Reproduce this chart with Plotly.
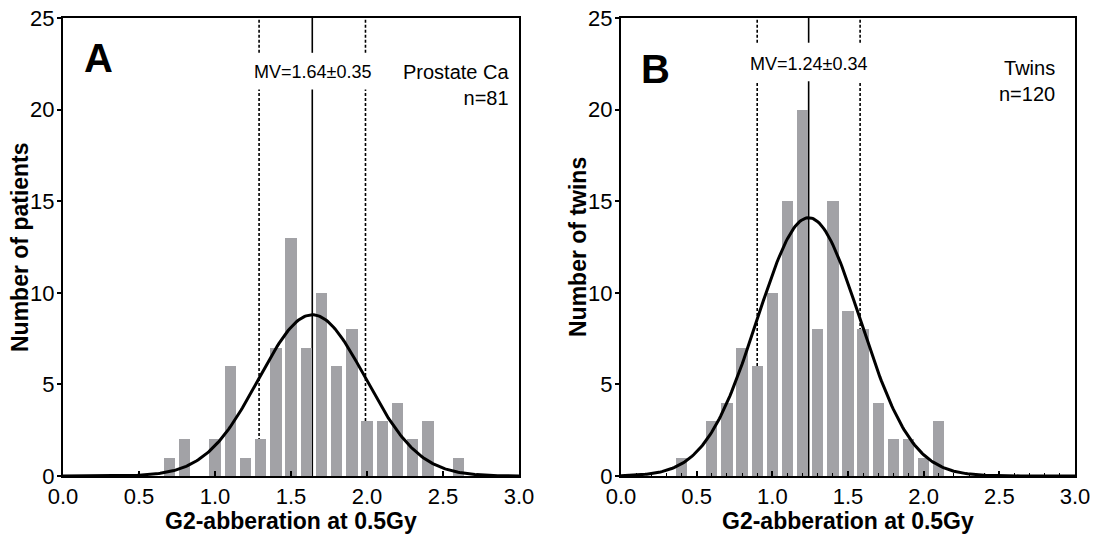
import numpy as np
import plotly.graph_objects as go

# ---- data ----
bins_a = [0.7, 0.8, 1.0, 1.1, 1.2, 1.3, 1.4, 1.5, 1.6, 1.7, 1.8, 1.9, 2.0, 2.1, 2.2, 2.3, 2.4, 2.6]
counts_a = [1, 2, 2, 6, 1, 2, 7, 13, 7, 10, 6, 8, 3, 3, 4, 2, 3, 1]
mean_a, sd_a, peak_a = 1.64, 0.35, 8.8

bins_b = [0.4, 0.6, 0.7, 0.8, 0.9, 1.0, 1.1, 1.2, 1.3, 1.4, 1.5, 1.6, 1.7, 1.8, 1.9, 2.0, 2.1]
counts_b = [1, 3, 4, 7, 6, 10, 15, 20, 8, 15, 9, 8, 4, 2, 2, 1, 3]
mean_b, sd_b, peak_b = 1.24, 0.34, 14.1

x_ticks = [0.0, 0.5, 1.0, 1.5, 2.0, 2.5, 3.0]
y_ticks = [0, 5, 10, 15, 20, 25]

FONT = "Liberation Sans, Arial, sans-serif"
BAR = "#A2A2A6"

xgrid = np.linspace(0, 3, 301)

def gauss(x, m, s, p):
    return p * np.exp(-0.5 * ((x - m) / s) ** 2)

fig = go.Figure()
fig.add_trace(go.Bar(x=bins_a, y=counts_a, width=0.075, marker=dict(color=BAR, line=dict(width=0)),
                     xaxis="x", yaxis="y", showlegend=False))
fig.add_trace(go.Scatter(x=xgrid, y=gauss(xgrid, mean_a, sd_a, peak_a), mode="lines",
                         line=dict(color="black", width=3), xaxis="x", yaxis="y", showlegend=False))
fig.add_trace(go.Bar(x=bins_b, y=counts_b, width=0.075, marker=dict(color=BAR, line=dict(width=0)),
                     xaxis="x2", yaxis="y2", showlegend=False))
fig.add_trace(go.Scatter(x=xgrid, y=gauss(xgrid, mean_b, sd_b, peak_b), mode="lines",
                         line=dict(color="black", width=3), xaxis="x2", yaxis="y2", showlegend=False))

shapes = []
def vlines(xr, yr, m, s, gap_lo, gap_hi):
    for xv, dash in [(m - s, "3px,2px"), (m, "solid"), (m + s, "3px,2px")]:
        for y0, y1 in [(0, gap_lo), (gap_hi, 25)]:
            shapes.append(dict(type="line", xref=xr, yref=yr, x0=xv, x1=xv, y0=y0, y1=y1,
                               layer="below", line=dict(color="black", width=1.6, dash=dash)))

vlines("x", "y", mean_a, sd_a, 21.1, 23.1)
vlines("x2", "y2", mean_b, sd_b, 21.55, 23.65)

ax_common = dict(range=[0, 3], tickvals=x_ticks, ticktext=[f"{v:.1f}" for v in x_ticks],
                 showline=True, linecolor="black", linewidth=2, mirror=True,
                 ticks="inside", ticklen=5, tickwidth=1.5, tickcolor="black",
                 showgrid=False, zeroline=False, automargin=False, ticklabelstandoff=0,
                 tickfont=dict(family=FONT, size=22, color="black"))
ay_common = dict(range=[0, 25], tickvals=y_ticks,
                 showline=True, linecolor="black", linewidth=2, mirror=True,
                 ticks="outside", ticklen=4, tickwidth=1.5, tickcolor="black",
                 showgrid=False, zeroline=False, automargin=False, ticklabelstandoff=-2,
                 tickfont=dict(family=FONT, size=22, color="black"))

W, H = 1094, 535
def px(x):
    return x / W
def py(y):
    return 1 - y / H

fig.update_layout(
    width=W, height=H, margin=dict(l=0, r=0, t=0, b=0, pad=0, autoexpand=False),
    paper_bgcolor="white", plot_bgcolor="white",
    xaxis=dict(domain=[px(63), px(519)], anchor="y", **ax_common),
    yaxis=dict(domain=[py(476), py(18)], anchor="x", **ay_common),
    xaxis2=dict(domain=[px(621), px(1075)], anchor="y2",
                minor=dict(ticks="inside", dtick=0.1, ticklen=3, tickwidth=1.2, tickcolor="black"),
                **ax_common),
    yaxis2=dict(domain=[py(476), py(18)], anchor="x2", **ay_common),
    shapes=shapes,
    bargap=0,
)

ann = []
def txt(text, x, y, size, bold=False, xanchor="center", yanchor="middle", angle=0, align="center",
        xref="paper", yref="paper"):
    ann.append(dict(text=f"<b>{text}</b>" if bold else text, x=x, y=y, xref=xref, yref=yref,
                    xanchor=xanchor, yanchor=yanchor, textangle=angle, align=align, showarrow=False,
                    font=dict(family=FONT, size=size, color="black")))

# panel letters
txt("A", px(82), py(58), 40, bold=True, xanchor="left")
txt("B", px(639), py(69), 40, bold=True, xanchor="left")
# MV labels
txt(f"MV={mean_a:.2f}±{sd_a:.2f}", mean_a, 22.05, 18, xref="x", yref="y")
txt(f"MV={mean_b:.2f}±{sd_b:.2f}", mean_b, 22.5, 18, xref="x2", yref="y2")
# group labels
txt(f"Prostate Ca<br>n={sum(counts_a)}", px(511), py(85), 20, xanchor="right", align="right")
txt(f"Twins<br>n=120", px(1057), py(81), 20, xanchor="right", align="right")
# axis titles
txt("G2-abberation at 0.5Gy", px(291), py(521), 23, bold=True)
txt("G2-abberation at 0.5Gy", px(848), py(521), 23, bold=True)
txt("Number of patients", px(20), py(247), 23, bold=True, angle=-90)
txt("Number of twins", px(578), py(247), 23, bold=True, angle=-90)

fig.update_layout(annotations=ann)
fig.write_html("out.html")
